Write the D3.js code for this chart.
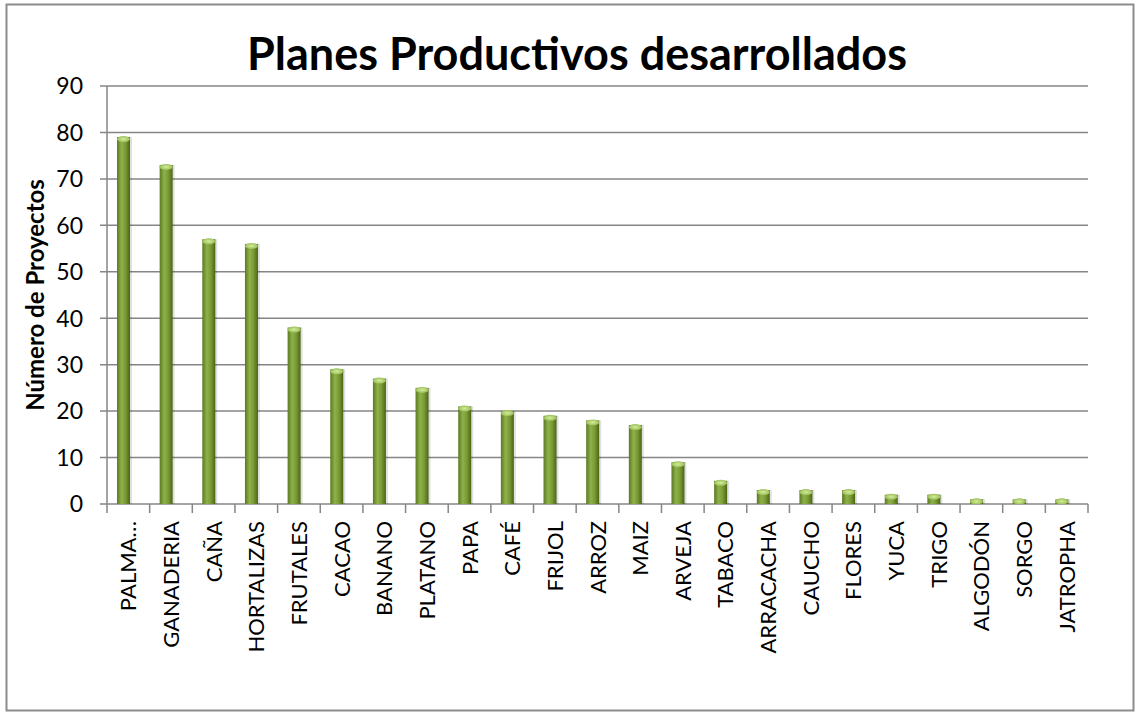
<!DOCTYPE html>
<html>
<head>
<meta charset="utf-8">
<script src="https://cdn.jsdelivr.net/npm/d3@7"></script>
<style>
  body { margin: 0; background: #fff; }
  text { font-family: Lato, "Open Sans", sans-serif; }
</style>
</head>
<body>
<div class="content"></div>
<script>
var categories = ['PALMA\u2026', 'GANADERIA', 'CAÑA', 'HORTALIZAS', 'FRUTALES', 'CACAO', 'BANANO',
    'PLATANO', 'PAPA', 'CAFÉ', 'FRIJOL', 'ARROZ', 'MAIZ', 'ARVEJA', 'TABACO', 'ARRACACHA',
    'CAUCHO', 'FLORES', 'YUCA', 'TRIGO', 'ALGODÓN', 'SORGO', 'JATROPHA']
var values = [79, 73, 57, 56, 38, 29, 27, 25, 21, 20, 19, 18, 17, 9, 5, 3, 3, 3, 2, 2, 1, 1, 1]
var yTicks = [0, 10, 20, 30, 40, 50, 60, 70, 80, 90]

var width = 1140
var height = 714
var margin = { top: 86, right: 52, bottom: 210, left: 107 }

var svg = d3.select('.content').append('svg')
    .attr('width', width)
    .attr('height', height)

var defs = svg.append('defs')
var grad = defs.append('linearGradient')
    .attr('id', 'barGrad')
    .attr('x1', '0%').attr('x2', '100%')
    .attr('y1', '0%').attr('y2', '0%')
grad.append('stop').attr('offset', '0%').attr('stop-color', '#5a7a22')
grad.append('stop').attr('offset', '35%').attr('stop-color', '#8fb04a')
grad.append('stop').attr('offset', '65%').attr('stop-color', '#7a9c35')
grad.append('stop').attr('offset', '100%').attr('stop-color', '#4a6516')

var capGrad = defs.append('radialGradient').attr('id', 'capGrad')
capGrad.append('stop').attr('offset', '0%').attr('stop-color', '#d4eca0')
capGrad.append('stop').attr('offset', '100%').attr('stop-color', '#9cbf55')

// outer frame
svg.append('rect')
    .attr('x', 6.5).attr('y', 4.5)
    .attr('width', 1127).attr('height', 706)
    .attr('fill', '#fff')
    .attr('stroke', '#8c8c8c')
    .attr('stroke-width', 2)

var x = d3.scaleBand()
    .domain(categories)
    .range([margin.left, width - margin.right])

var y = d3.scaleLinear()
    .domain([0, 90])
    .range([height - margin.bottom, margin.top])

// gridlines
svg.append('g')
    .attr('class', 'grid')
    .selectAll('line')
    .data(yTicks)
    .enter().append('line')
    .attr('x1', margin.left - 7)
    .attr('x2', width - margin.right)
    .attr('y1', function(d) { return y(d) })
    .attr('y2', function(d) { return y(d) })
    .attr('stroke', '#868686')
    .attr('stroke-width', 1.5)

// y axis line
svg.append('line')
    .attr('x1', margin.left).attr('x2', margin.left)
    .attr('y1', y(90)).attr('y2', y(0))
    .attr('stroke', '#868686')
    .attr('stroke-width', 1.5)

// y tick labels
svg.append('g')
    .selectAll('text')
    .data(yTicks)
    .enter().append('text')
    .attr('x', 83)
    .attr('y', function(d) { return y(d) })
    .attr('dy', '0.36em')
    .attr('text-anchor', 'end')
    .attr('font-size', 23)
    .attr('fill', '#000')
    .text(function(d) { return d })

// x ticks
var tickPos = categories.map(function(c) { return x(c) }).concat([width - margin.right])
svg.append('g')
    .selectAll('line')
    .data(tickPos)
    .enter().append('line')
    .attr('x1', function(d) { return d })
    .attr('x2', function(d) { return d })
    .attr('y1', y(0))
    .attr('y2', y(0) + 9)
    .attr('stroke', '#868686')
    .attr('stroke-width', 1.5)

// bars
var barW = 13
var bars = svg.append('g').attr('class', 'bars')
    .selectAll('g')
    .data(categories)
    .enter().append('g')

bars.append('rect')
    .attr('x', function(d) { return x(d) + 12 })
    .attr('y', function(d, i) { return y(values[i]) })
    .attr('width', barW)
    .attr('height', function(d, i) { return y(0) - y(values[i]) })
    .attr('fill', '#000')
    .attr('opacity', 0.12)

bars.append('rect')
    .attr('x', function(d) { return x(d) + 10 })
    .attr('y', function(d, i) { return y(values[i]) })
    .attr('width', barW)
    .attr('height', function(d, i) { return y(0) - y(values[i]) })
    .attr('fill', 'url(#barGrad)')

bars.append('ellipse')
    .attr('cx', function(d) { return x(d) + 10 + barW / 2 })
    .attr('cy', function(d, i) { return y(values[i]) + 2 })
    .attr('rx', barW / 2)
    .attr('ry', 3)
    .attr('fill', 'url(#capGrad)')

// x labels
svg.append('g')
    .selectAll('text')
    .data(categories)
    .enter().append('text')
    .attr('transform', function(d) {
        return 'translate(' + (x(d) + x.bandwidth() / 2 + 8) + ',' + (y(0) + 17) + ') rotate(-90)'
    })
    .attr('text-anchor', 'end')
    .attr('font-size', 22)
    .attr('fill', '#000')
    .text(function(d) { return d })

// title
svg.append('text')
    .attr('x', 577)
    .attr('y', 70)
    .attr('text-anchor', 'middle')
    .attr('font-size', 45)
    .attr('font-weight', 'bold')
    .text('Planes Productivos desarrollados')

// y axis title
svg.append('text')
    .attr('transform', 'translate(44,295) rotate(-90)')
    .attr('text-anchor', 'middle')
    .attr('font-size', 24)
    .attr('font-weight', 'bold')
    .text('Número de Proyectos')
</script>
</body>
</html>
